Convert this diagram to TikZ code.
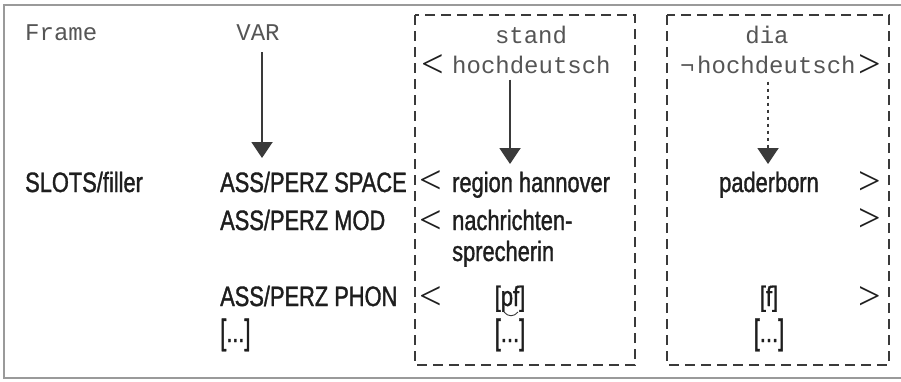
\documentclass[tikz,border=0pt]{standalone}
\usepackage{fontspec}
\usetikzlibrary{arrows.meta,calc}
\newfontfamily\condfont{Liberation Sans}[FakeStretch=0.78, FakeBold=1.2]
\newfontfamily\monofont{Liberation Mono}
\newfontfamily\anglefont{Liberation Serif}
\definecolor{txt}{HTML}{1E1E1E}
\definecolor{monotxt}{HTML}{555555}
\definecolor{linec}{HTML}{3A3A3A}
\definecolor{framec}{HTML}{9A9A9A}
\tikzset{
  cond/.style={font=\condfont\fontsize{28}{30}\selectfont, text=txt, inner sep=0pt, anchor=base west},
  condc/.style={cond, anchor=base},
  monotext/.style={font=\monofont\fontsize{24}{28}\selectfont, text=monotxt, inner sep=0pt, anchor=base},
  angle/.style={font=\anglefont\fontsize{40}{40}\selectfont, text=txt, inner sep=0pt},
  groupbox/.style={draw=linec, line width=1.6pt, dash pattern=on 10pt off 6pt},
  flow/.style={draw=linec, line width=2pt, -{Triangle[width=21pt,length=16pt]}},
  dotflow/.style={flow, dash pattern=on 3pt off 4pt},
}
% taller brackets for the ellipsis fillers
\newcommand\tallbr[1]{\raisebox{-2pt}{\scalebox{1}[1.25]{#1}}}
\newcommand\etcfill{\tallbr{[}...\tallbr{]}}
\begin{document}
\begin{tikzpicture}[x=1pt,y=-1pt]
\useasboundingbox (0,0) rectangle (901,381);
% outer frame (open on the right)
\draw[framec, line width=2pt] (905,5) -- (4,5) -- (4,378) -- (905,378);
% variety groups
\draw[groupbox] (415,15) rectangle (635,365);
\draw[groupbox] (667,15) rectangle (889,365);

% header row
\node[monotext, anchor=base west] (frame) at (25,40) {Frame};
\node[monotext] (var) at (258,40) {VAR};
\node[monotext] (stand) at (531,43) {stand};
\node[monotext] (dia) at (767,43) {dia};
\node[angle] (ltA) at (432.5,66) {<};
\node[monotext, anchor=base west] (hochA) at (452,73) {hochdeutsch};
\node[monotext, anchor=base west] (neg) at (680,73) {¬};
\node[monotext, anchor=base west] (hochB) at (697,73) {hochdeutsch};
\node[angle] (gtA) at (870,66) {>};

% slots
\node[cond] (slots) at (25,192) {SLOTS/filler};
\node[cond] (space) at (220,192) {ASS/PERZ SPACE};
\node[cond] (mod) at (220,230) {ASS/PERZ MOD};
\node[cond] (phon) at (220,306) {ASS/PERZ PHON};
\node[cond] (moreA) at (220,342) {\etcfill};

% standard fillers
\node[angle] (ltB) at (431,182.5) {<};
\node[cond] (region) at (452,192) {region hannover};
\node[angle] (ltC) at (431,222) {<};
\node[cond] (nachr) at (452,230) {nachrichten-};
\node[cond] (sprech) at (452,261) {sprecherin};
\node[angle] (ltD) at (431,298) {<};
\node[condc] (pf) at (510,306) {[pf]};
\node[condc] (moreB) at (510,342) {\etcfill};
% tie bar under the affricate
\draw[linec, line width=0.9pt] ($(pf.base)+(-6,6)$) .. controls ($(pf.base)+(-2,11)$) and ($(pf.base)+(4,11)$) .. ($(pf.base)+(8,6)$);

% dialect fillers
\node[condc] (pader) at (769,192) {paderborn};
\node[angle] (gtB) at (870,183) {>};
\node[angle] (gtC) at (870,220) {>};
\node[condc] (f) at (769,306) {[f]};
\node[angle] (gtD) at (870,298) {>};
\node[condc] (moreC) at (769,342) {\etcfill};

% arrows
\coordinate (varEnd) at (262,158);
\coordinate (standEnd) at (510,164);
\coordinate (diaEnd) at (768,164);
\draw[flow] (var.south -| varEnd) ++(0,12) -- (varEnd);
\draw[flow] (hochA.south -| standEnd) ++(0,6) -- (standEnd);
\draw[dotflow] (hochB.south -| diaEnd) ++(0,8) -- (diaEnd);
\end{tikzpicture}
\end{document}
